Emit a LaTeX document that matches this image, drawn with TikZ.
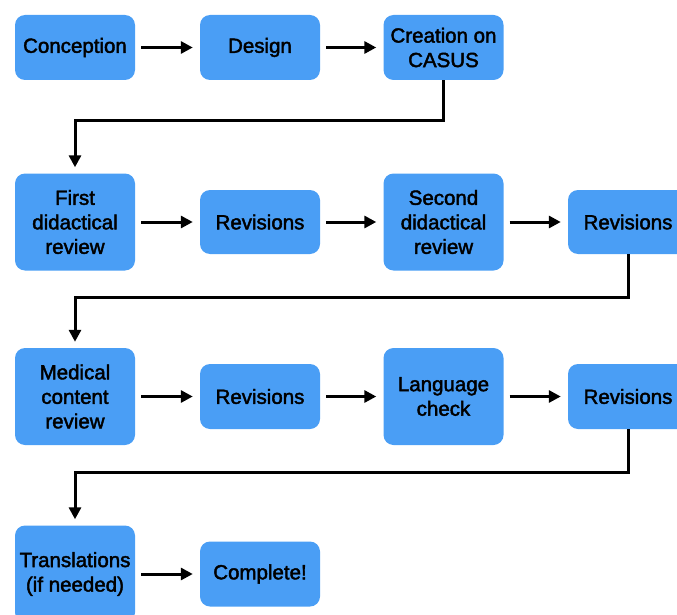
\documentclass[tikz,border=0pt]{standalone}
\usepackage{fontspec}
\newfontface\boxfont[FakeBold=2]{Liberation Sans}
\usetikzlibrary{arrows.meta}
\definecolor{boxblue}{RGB}{74,158,245}
\tikzset{
  stage/.style={fill=boxblue, rounded corners=10pt, minimum width=120pt, inner sep=0pt,
    align=center, text=black, font=\boxfont\fontsize{20.5}{24.5}\selectfont},
  short/.style={stage, minimum height=65pt},
  tall/.style={stage, minimum height=97pt},
  flow/.style={line width=3pt, -{Triangle[length=12pt,width=12pt]}, shorten <=6pt, shorten >=7pt},
  wrap/.style={line width=3pt, -{Triangle[length=12pt,width=12pt]}, shorten >=6pt}
}
\begin{document}
\begin{tikzpicture}[x=1pt,y=-1pt]
\useasboundingbox (0,0) rectangle (677,615);
\clip (0,0) rectangle (677,615);
% row 1
\node[short] (c1) at (75,47.5) {Conception};
\node[short] (c2) at (260,47.5) {Design};
\node[short] (c3) at (443.5,47.5) {Creation on\\CASUS};
% row 2
\node[tall] (f1) at (75,222) {First\\didactical\\review};
\node[short, minimum height=64pt] (r1) at (260,222) {Revisions};
\node[tall] (s2) at (443.5,222) {Second\\didactical\\review};
\node[short, minimum height=64pt] (r2) at (628,222) {Revisions};
% row 3
\node[tall] (m1) at (75,396.5) {Medical\\content\\review};
\node[short] (r3) at (260,396.5) {Revisions};
\node[tall] (l1) at (443.5,396.5) {Language\\check};
\node[short] (r4) at (628,396.5) {Revisions};
% row 4
\node[tall] (t1) at (75,574) {Translations\\(if needed)};
\node[short] (done) at (260,574) {Complete!};
% horizontal arrows
\draw[flow] (c1.east) -- (c2.west);
\draw[flow] (c2.east) -- (c3.west);
\draw[flow] (f1.east) -- (r1.west);
\draw[flow] (r1.east) -- (s2.west);
\draw[flow] (s2.east) -- (r2.west);
\draw[flow] (m1.east) -- (r3.west);
\draw[flow] (r3.east) -- (l1.west);
\draw[flow] (l1.east) -- (r4.west);
\draw[flow] (t1.east) -- (done.west);
% wrap-around connectors
\draw[wrap] (c3.south) -- ++(0,40.5) -| (f1.north);
\draw[wrap] (r2.south) -- ++(0,43) -| (m1.north);
\draw[wrap] (r4.south) -- ++(0,43) -| (t1.north);
\end{tikzpicture}
\end{document}
